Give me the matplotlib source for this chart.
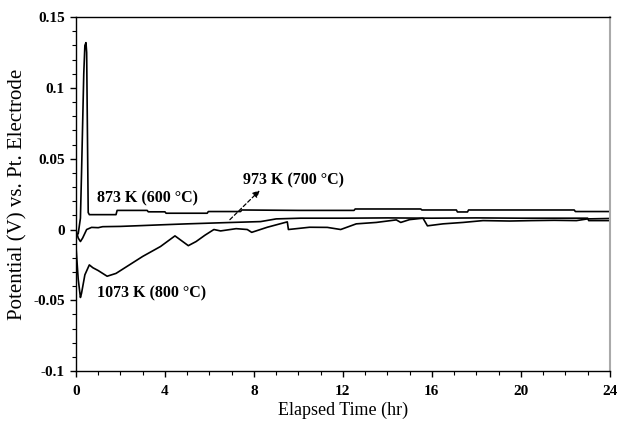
import matplotlib
matplotlib.use("Agg")
import matplotlib.pyplot as plt
from matplotlib.ticker import MultipleLocator, FixedLocator

# ---- data ----
t_873 = [0, 0.1, 0.2, 0.25, 0.3, 0.35, 0.4, 0.45, 0.48, 0.52, 0.55, 0.6, 1.0, 1.8, 1.85,
         3.2, 3.25, 4.0, 4.05, 5.9, 5.95, 7.4, 7.45, 10.0, 12.5, 12.55, 15.5, 15.55,
         17.1, 17.15, 17.6, 17.65, 22.4, 22.45, 24]
v_873 = [-0.004, -0.003, 0.008, 0.04, 0.075, 0.11, 0.13, 0.132, 0.125, 0.06, 0.012, 0.0105,
         0.0105, 0.0105, 0.0135, 0.0135, 0.0125, 0.0125, 0.0115, 0.0115, 0.0127, 0.0127,
         0.0138, 0.0135, 0.0135, 0.0145, 0.0145, 0.0138, 0.0138, 0.0124, 0.0124, 0.0138,
         0.0138, 0.0127, 0.0127]

t_973 = [0, 0.1, 0.2, 0.3, 0.48, 0.7, 1.0, 1.2, 2.0, 3.0, 3.8, 5.0, 6.8, 8.3, 9.0, 10.1,
         12, 14, 16, 18, 20, 22, 23, 23.05, 24]
v_973 = [0.0, -0.006, -0.0085, -0.006, 0.0, 0.0015, 0.0013, 0.002, 0.0022, 0.0028, 0.0033,
         0.004, 0.0049, 0.0056, 0.0075, 0.008, 0.008, 0.0082, 0.008, 0.0082, 0.008, 0.008,
         0.008, 0.0063, 0.0063]

t_1073 = [0, 0.1, 0.2, 0.25, 0.4, 0.6, 0.76, 1.0, 1.4, 1.8, 2.4, 3.0, 3.8, 4.45, 5.05, 5.4,
          5.8, 6.2, 6.5, 7.2, 7.7, 7.9, 8.6, 9.5, 9.55, 10.5, 11.3, 11.9, 12.6, 13.5, 14.4,
          14.6, 15.0, 15.6, 15.8, 16.5, 17.4, 18.3, 19.5, 20.5, 21.5, 22.5, 23, 24]
v_1073 = [-0.012, -0.035, -0.048, -0.045, -0.032, -0.025, -0.027, -0.029, -0.033, -0.031,
          -0.025, -0.019, -0.012, -0.0045, -0.0114, -0.0085, -0.004, 0.0, -0.001, 0.0006,
          0.0, -0.002, 0.0016, 0.0054, 0.0, 0.0016, 0.0015, 0.0, 0.004, 0.005, 0.0068,
          0.005, 0.007, 0.008, 0.0026, 0.004, 0.005, 0.0063, 0.006, 0.0063, 0.0065, 0.0063,
          0.0075, 0.0078]

x_ticks = [0, 4, 8, 12, 16, 20, 24]
y_ticks = [-0.1, -0.05, 0, 0.05, 0.1, 0.15]
y_tick_labels = ["-0.1", "-0.05", "0", "0.05", "0.1", "0.15"]

serif = ["Liberation Serif", "DejaVu Serif"]

fig = plt.figure(figsize=(6.3, 4.29), dpi=100)
ax = fig.add_axes([0.1206, 0.135, 0.8474, 0.825])

for t, v in [(t_873, v_873), (t_973, v_973), (t_1073, v_1073)]:
    ax.plot(t, v, color="black", lw=1.2)

ax.set_xlim(0, 24)
ax.set_ylim(-0.1, 0.15)
ax.xaxis.set_major_locator(FixedLocator(x_ticks))
ax.xaxis.set_minor_locator(MultipleLocator(1))
ax.yaxis.set_major_locator(FixedLocator(y_ticks))
ax.yaxis.set_minor_locator(MultipleLocator(0.01))
ax.set_yticklabels(y_tick_labels)
ax.set_xticklabels([str(x) for x in x_ticks])
for lab in ax.get_xticklabels() + ax.get_yticklabels():
    lab.set_family(serif)
    lab.set_fontweight("bold")
    lab.set_fontsize(11)
ax.tick_params(which="major", direction="out", length=4, width=1, pad=6)
ax.tick_params(which="minor", direction="out", length=3, width=0.8)
ax.tick_params(axis="y", which="major", pad=4)

ax.spines["right"].set_color("#aaaaaa")
ax.spines["right"].set_linewidth(1.5)
for s in ["top", "left", "bottom"]:
    ax.spines[s].set_color("black")
    ax.spines[s].set_linewidth(1.0)

ax.set_xlabel("Elapsed Time (hr)", family=serif, fontsize=13, labelpad=3)
ax.set_ylabel("Potential (V) vs. Pt. Electrode", family=serif, fontsize=15, labelpad=4)

ax.text(0.94, 0.0223, "873 K (600 \u00b0C)", family=serif, fontweight="bold", fontsize=11.5,
        ha="left", va="center")
ax.text(7.49, 0.035, "973 K (700 \u00b0C)", family=serif, fontweight="bold", fontsize=11.5,
        ha="left", va="center")
ax.text(0.94, -0.0448, "1073 K (800 \u00b0C)", family=serif, fontweight="bold", fontsize=11.5,
        ha="left", va="center")
ax.annotate("", xy=(8.35, 0.029), xytext=(6.83, 0.0056),
            arrowprops=dict(arrowstyle="-|>", linestyle=(0, (3, 2)), color="black",
                            lw=0.9, mutation_scale=10))

fig.savefig("out.png", dpi=100)
